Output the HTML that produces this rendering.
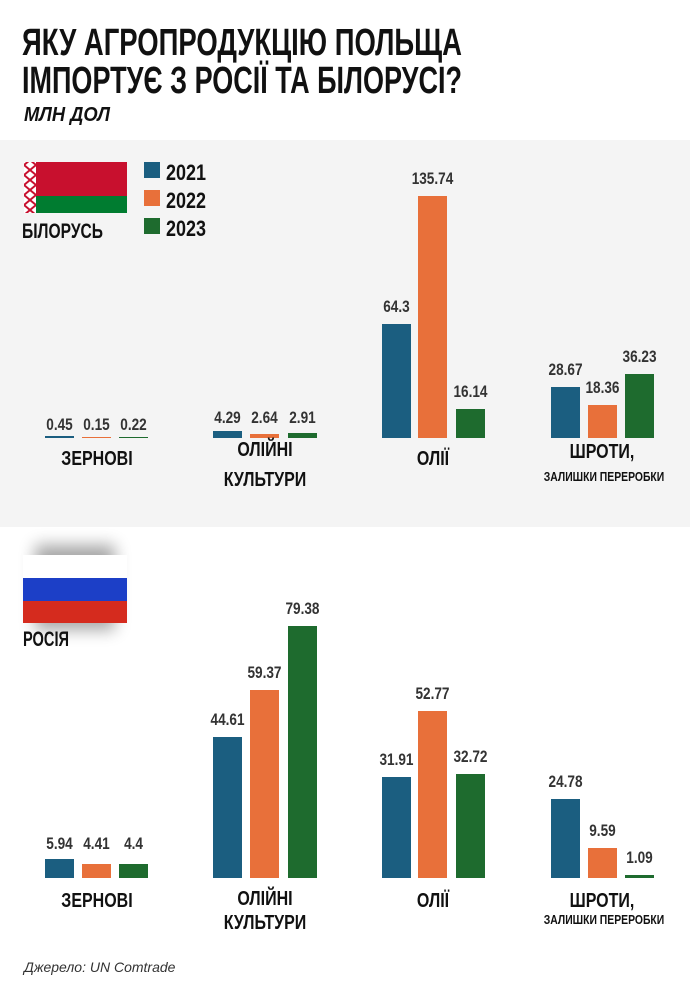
<!DOCTYPE html>
<html><head><meta charset="utf-8"><style>
body{margin:0;width:690px;height:1000px;background:#fff;overflow:hidden}
svg text{font-family:"Liberation Sans Narrow","Liberation Sans",sans-serif;font-weight:bold}
</style></head><body>
<svg width="690" height="1000" viewBox="0 0 690 1000" xmlns="http://www.w3.org/2000/svg">
<defs><filter id="sh" x="-30%" y="-50%" width="160%" height="200%"><feGaussianBlur stdDeviation="8"/></filter>
<pattern id="orn" width="12" height="10" patternUnits="userSpaceOnUse"><rect width="12" height="10" fill="#fff"/><path d="M6 0L12 5L6 10L0 5Z" fill="none" stroke="#c8102e" stroke-width="2"/></pattern></defs>
<rect x="0" y="140" width="690" height="387" fill="#f4f4f4"/>
<text x="22" y="55" font-size="38" fill="#111" textLength="440" lengthAdjust="spacingAndGlyphs">ЯКУ АГРОПРОДУКЦІЮ ПОЛЬЩА</text>
<text x="22" y="93" font-size="38" fill="#111" textLength="440" lengthAdjust="spacingAndGlyphs">ІМПОРТУЄ З РОСІЇ ТА БІЛОРУСІ?</text>
<text x="24" y="121" font-size="20" font-style="italic" fill="#111" textLength="86" lengthAdjust="spacingAndGlyphs">МЛН ДОЛ</text>
<rect x="24" y="162" width="103" height="34" fill="#c8102e"/>
<rect x="24" y="196" width="103" height="17" fill="#007c30"/>
<rect x="24" y="162" width="12" height="51" fill="url(#orn)"/>
<text x="22" y="238" font-size="21" fill="#111" textLength="81" lengthAdjust="spacingAndGlyphs">БІЛОРУСЬ</text>
<rect x="144" y="162" width="16" height="16" fill="#1b5e80"/>
<rect x="144" y="190" width="16" height="16" fill="#e8703a"/>
<rect x="144" y="218" width="16" height="16" fill="#1e6b2e"/>
<g font-size="22" fill="#111">
<text x="166" y="180" textLength="40" lengthAdjust="spacingAndGlyphs">2021</text>
<text x="166" y="208" textLength="40" lengthAdjust="spacingAndGlyphs">2022</text>
<text x="166" y="236" textLength="40" lengthAdjust="spacingAndGlyphs">2023</text>
</g>
<rect x="45" y="436" width="29" height="2" fill="#1b5e80"/>
<rect x="82" y="437" width="29" height="1" fill="#e8703a"/>
<rect x="119" y="437" width="29" height="1" fill="#1e6b2e"/>
<rect x="213" y="431" width="29" height="7" fill="#1b5e80"/>
<rect x="250" y="434" width="29" height="4" fill="#e8703a"/>
<rect x="288" y="433" width="29" height="5" fill="#1e6b2e"/>
<rect x="382" y="324" width="29" height="114" fill="#1b5e80"/>
<rect x="418" y="196" width="29" height="242" fill="#e8703a"/>
<rect x="456" y="409" width="29" height="29" fill="#1e6b2e"/>
<rect x="551" y="387" width="29" height="51" fill="#1b5e80"/>
<rect x="588" y="405" width="29" height="33" fill="#e8703a"/>
<rect x="625" y="374" width="29" height="64" fill="#1e6b2e"/>
<g transform="scale(0.8,1)" text-anchor="middle">
<g font-size="17" fill="#333">
<text x="74.4" y="430">0.45</text><text x="120.6" y="430">0.15</text><text x="166.9" y="430">0.22</text>
<text x="284.4" y="423">4.29</text><text x="330.6" y="423">2.64</text><text x="378.1" y="423">2.91</text>
<text x="495.6" y="312">64.3</text><text x="540.6" y="184">135.74</text><text x="588.1" y="397">16.14</text>
<text x="706.9" y="375">28.67</text><text x="753.1" y="393">18.36</text><text x="799.4" y="362">36.23</text>
</g>
<g font-size="20" fill="#111">
<text x="121.25" y="465">ЗЕРНОВІ</text>
<text x="331.25" y="456">ОЛІЙНІ</text><text x="331.25" y="486">КУЛЬТУРИ</text>
<text x="541.25" y="465">ОЛІЇ</text>
<text x="752.5" y="458">ШРОТИ,</text>
<text x="755" y="481" font-size="13">ЗАЛИШКИ ПЕРЕРОБКИ</text>
</g>
</g>
<rect x="35" y="545" width="80" height="85" fill="#000" opacity="0.35" filter="url(#sh)"/>
<rect x="23" y="555" width="104" height="23" fill="#fff"/>
<rect x="23" y="578" width="104" height="23" fill="#1c3fc7"/>
<rect x="23" y="601" width="104" height="22" fill="#d52b1e"/>
<text x="23" y="646" font-size="21" fill="#111" textLength="46" lengthAdjust="spacingAndGlyphs">РОСІЯ</text>
<rect x="45" y="859" width="29" height="19" fill="#1b5e80"/>
<rect x="82" y="864" width="29" height="14" fill="#e8703a"/>
<rect x="119" y="864" width="29" height="14" fill="#1e6b2e"/>
<rect x="213" y="737" width="29" height="141" fill="#1b5e80"/>
<rect x="250" y="690" width="29" height="188" fill="#e8703a"/>
<rect x="288" y="626" width="29" height="252" fill="#1e6b2e"/>
<rect x="382" y="777" width="29" height="101" fill="#1b5e80"/>
<rect x="418" y="711" width="29" height="167" fill="#e8703a"/>
<rect x="456" y="774" width="29" height="104" fill="#1e6b2e"/>
<rect x="551" y="799" width="29" height="79" fill="#1b5e80"/>
<rect x="588" y="848" width="29" height="30" fill="#e8703a"/>
<rect x="625" y="875" width="29" height="3" fill="#1e6b2e"/>
<g transform="scale(0.8,1)" text-anchor="middle">
<g font-size="17" fill="#333">
<text x="74.4" y="849">5.94</text><text x="120.6" y="849">4.41</text><text x="166.9" y="849">4.4</text>
<text x="284.4" y="725">44.61</text><text x="330.6" y="678">59.37</text><text x="378.1" y="614">79.38</text>
<text x="495.6" y="765">31.91</text><text x="540.6" y="699">52.77</text><text x="588.1" y="762">32.72</text>
<text x="706.9" y="787">24.78</text><text x="753.1" y="836">9.59</text><text x="799.4" y="863">1.09</text>
</g>
<g font-size="20" fill="#111">
<text x="121.25" y="907">ЗЕРНОВІ</text>
<text x="331.25" y="905">ОЛІЙНІ</text><text x="331.25" y="929">КУЛЬТУРИ</text>
<text x="541.25" y="907">ОЛІЇ</text>
<text x="752.5" y="907">ШРОТИ,</text>
<text x="755" y="924" font-size="13">ЗАЛИШКИ ПЕРЕРОБКИ</text>
</g>
</g>
<text x="24" y="972" font-size="14" font-style="italic" fill="#333" style="font-weight:normal">Джерело: UN Comtrade</text>
</svg>
</body></html>
